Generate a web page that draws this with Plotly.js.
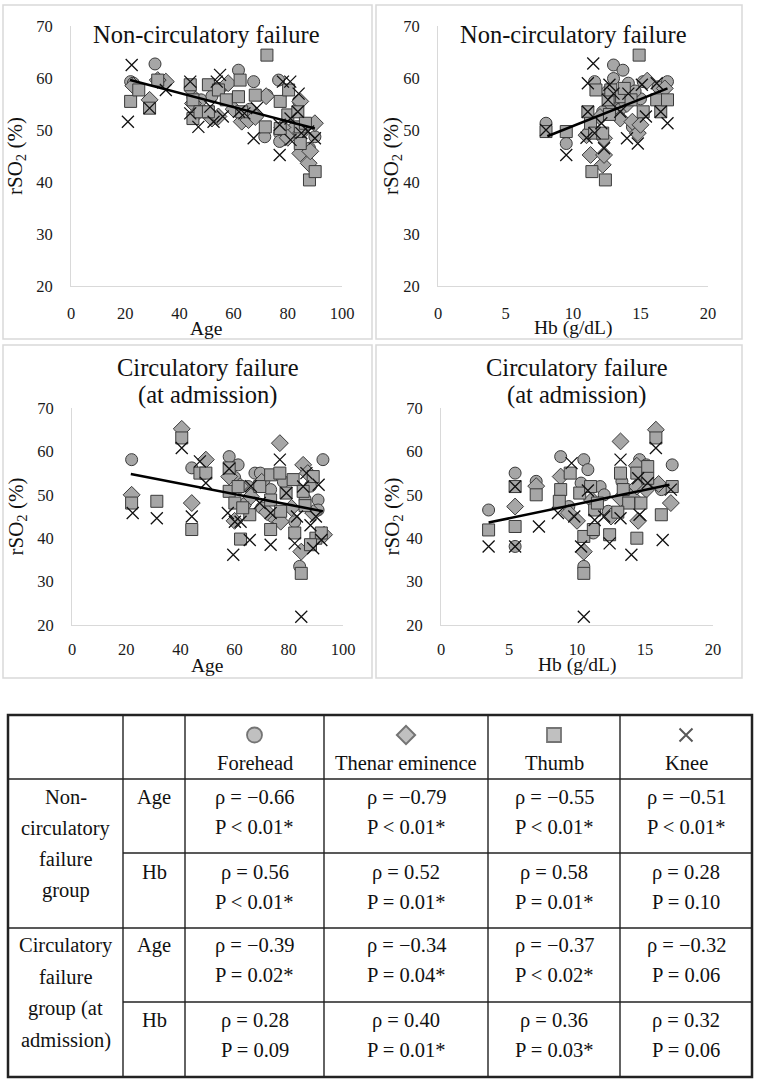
<!DOCTYPE html>
<html>
<head>
<meta charset="utf-8">
<script src="https://cdn.plot.ly/plotly-3.0.1.min.js"></script>
<style>
  body { margin: 0; background: #fff; }
  #chart { width: 757px; height: 1081px; }
</style>
</head>
<body>
<div id="chart"></div>
<script>
// ---- data: [x, rSO2] per point ----
// non-circulatory failure vs age
const ncAgeForehead = [[22,59.3],[24,58.2],[31,62.7],[45,56.4],[48,55.8],[57.5,58.7],[61.8,61.5],[67.4,59.3],[72.3,56.7],[71.5,48.7],[76.6,59.6],[77,49.4],[77,47.8],[82.1,50.3],[90,48.7],[84,55.5],[52,56.5],[44,58],[66,54],[88,46.5],[55,58],[23,59]];
const ncAgeThenar = [[29,55.8],[35,59.3],[32,59.6],[45,55.1],[52,52.2],[54.4,52.6],[63,51.6],[65.5,51.9],[84.6,55.5],[84.6,45.5],[87.7,43.6],[88.3,45.9],[90,51.3],[72,56.5],[78,50.5],[58,59],[68,52.5],[46,53],[23,58.5],[80,48.5],[60,54],[85,49.5]];
const ncAgeThumb = [[22,55.5],[25,57.7],[29,54.2],[32,59.6],[44,58.7],[45,55.8],[45,52.2],[47.6,53.5],[50.7,53.5],[50.7,58.7],[54.4,57.7],[57.3,55.8],[62.4,59.6],[61.8,56.4],[68,56.7],[71.7,50.6],[72.3,64.4],[77.2,55.5],[77.2,50.3],[80.3,57.7],[80,52.9],[83.7,53.5],[84.6,50.6],[84.6,47.4],[86.5,51.3],[88,40.4],[90.1,42],[63,53.5]];
const ncAgeKnee = [[22.4,62.5],[21,51.6],[29,54.2],[35,57.7],[44,59.3],[44,53.2],[47,50.6],[51.4,54.5],[52.6,51.6],[53.8,59.3],[55,60.6],[56,52.6],[62,53.5],[64,53.2],[67.4,48.4],[68.6,54.2],[78.2,59.3],[77,45.2],[80.9,59.3],[81,52.2],[81,48.1],[84,57],[83.7,53.5],[85,49.4],[87.5,49.7],[90,48.4],[77,51]];
const ncAgeTrend = [[21.8,59.6],[90,50.3]];

// non-circulatory failure vs Hb
const ncHbForehead = [[8,51.3],[9.5,47.4],[11.6,59.3],[11.1,49.4],[13,62.5],[13.7,61.5],[13,59.9],[14.1,59],[15.2,59.3],[14.4,50.6],[16.3,58.3],[17,59.3],[12.2,53.5],[12.8,55],[13.5,54],[11.3,52],[15,56],[14.6,57.5]];
const ncHbThenar = [[11.3,45.2],[12.2,43.3],[12.3,45.2],[12.3,48.4],[13.5,52.2],[14.8,49.4],[14.4,51.6],[16.8,58],[12,52.5],[11,49],[13.2,56.5],[15.5,59.5],[14,55],[12.6,57.5],[15,51]];
const ncHbThumb = [[8,49.7],[9.5,49.7],[11.7,57.7],[11.1,53.5],[11.3,51.3],[11.6,49.4],[11.4,42],[12.4,40.4],[12.2,49.4],[12.6,55.8],[12.8,57.7],[13.6,56.4],[14.3,55.8],[14.9,64.4],[15.2,53.5],[16.2,55.8],[16.5,53.5],[17,55.8],[13.8,58],[12.7,53]];
const ncHbKnee = [[8,50],[9.5,45.2],[11.5,62.8],[11.1,59],[11.1,53.5],[11.6,49.4],[12.3,46.5],[12.1,51.3],[12.6,55.8],[12.7,58.7],[13.5,53.5],[14.1,57],[14,48.4],[14.8,47.4],[15.1,58.7],[15.4,52.6],[16.2,59],[16.5,53.5],[17,51.3],[13,57],[11,48.5]];
const ncHbTrend = [[8.1,48.8],[17,58]];

// circulatory failure (at admission) vs age
const cfAgeForehead = [[22,58.1],[44.2,56.2],[58,58.8],[61.3,56.9],[65,51.9],[67.5,55],[69.5,55],[73.3,51.2],[82.2,43.8],[84,33.5],[90.8,48.8],[92.6,58.1],[90.8,46.5],[60,54],[78,53],[86,49],[64,48],[70,47],[88,52],[74,45]];
const cfAgeThenar = [[22,50],[40.5,65.2],[44.2,48.1],[49.4,58.1],[58,54.2],[66,49.6],[76.7,61.9],[77,43.8],[84.6,36.9],[85.3,56.9],[89,45.8],[93,40.8],[62,52],[70,53],[81,47],[60,44],[87,55],[72,46]];
const cfAgeThumb = [[22,48.1],[31.3,48.5],[40.5,63.1],[44.2,42],[47.2,55],[49.4,55],[58,56.2],[58,50.8],[60.1,48.1],[61.3,51.9],[62.2,39.8],[65.6,45.4],[69.3,51.9],[73.3,54.6],[73.3,48.8],[73.3,42],[76.7,55],[77,46.2],[79,50.4],[81.6,53.5],[82.2,41.2],[84.6,31.9],[85.3,50.8],[89,54.2],[90,40],[92,41.2],[63,47],[86,47.5],[88,38.5]];
const cfAgeKnee = [[22.4,45.8],[31.3,44.6],[40.5,60.8],[44.2,45],[47.2,57.7],[49.4,52.7],[58,56],[57.5,45.8],[59.5,36.2],[60.1,43.8],[62.2,43.8],[65.6,39.6],[69.3,48.1],[73.3,45.8],[73.3,38.5],[76.7,58.1],[79.1,50.4],[82.2,38.8],[84.6,21.9],[85.3,51.9],[86.5,55],[91,52.3],[89,37.7],[92,39.6],[83,45],[88,43],[66,52],[90,45]];
const cfAgeTrend = [[21.7,54.8],[92.6,46.2]];

// circulatory failure (at admission) vs Hb
const cfHbForehead = [[3.5,46.5],[5.45,55],[7,53.1],[8.8,58.8],[9.4,47.3],[10.5,58.1],[10.3,52.7],[10.5,33.5],[10.8,55.8],[11.7,51.9],[11.2,41.2],[12.3,46.2],[13.3,53.1],[14.6,58.1],[15.1,56.9],[16.2,51.2],[17,56.9],[5.45,38.1],[12,50]];
const cfHbThenar = [[5.45,47.3],[7,52],[8.8,54.2],[9.4,45.8],[10.5,36.9],[11.1,48.8],[13.2,62.3],[13.2,49.2],[14,49.6],[14.4,56.7],[14.4,51.9],[15.1,51.2],[15.8,65],[16.9,48.1],[10,44],[12.5,45],[14.5,44],[16,52.5]];
const cfHbThumb = [[3.5,41.9],[5.45,51.9],[5.45,42.7],[7,50],[8.8,51.2],[8.7,48.5],[9.5,55],[10.2,50.4],[10.5,40.4],[10.5,31.9],[11,51.9],[11.3,46.5],[11.5,48.1],[12.4,40.8],[13.2,55],[13.4,51.2],[13.8,48.1],[14.4,55],[14.4,40],[14.7,48.1],[15.2,56.5],[15.2,53.8],[15.8,63.1],[16.2,45.4],[17,51.9],[11.2,42],[13,46]];
const cfHbKnee = [[3.5,38.1],[5.45,51.9],[5.45,38.1],[7.2,42.7],[8.6,45.8],[9.6,57.3],[10.3,38.1],[10.5,21.9],[11.3,44.2],[12.4,38.8],[13.2,58.1],[13.2,44.6],[14,36.2],[14.5,53.8],[14.6,45.4],[15.2,52.7],[15.8,60.8],[16.3,39.6],[16.9,51.2],[10.8,51],[12,45],[9.8,45]];
const cfHbTrend = [[3.5,43.6],[16.8,52.3]];

// table
const sites = ['Forehead', 'Thenar eminence', 'Thumb', 'Knee'];
const groupLabels = [['Non-', 'circulatory', 'failure', 'group'], ['Circulatory', 'failure', 'group (at', 'admission)']];
const varLabels = ['Age', 'Hb', 'Age', 'Hb'];
const rhoValues = [
  [-0.66, -0.79, -0.55, -0.51],
  [0.56, 0.52, 0.58, 0.28],
  [-0.39, -0.34, -0.37, -0.32],
  [0.28, 0.40, 0.36, 0.32]
];
const pTexts = [
  ['P < 0.01*', 'P < 0.01*', 'P < 0.01*', 'P < 0.01*'],
  ['P < 0.01*', 'P = 0.01*', 'P = 0.01*', 'P = 0.10'],
  ['P = 0.02*', 'P = 0.04*', 'P < 0.02*', 'P = 0.06'],
  ['P = 0.09', 'P = 0.01*', 'P = 0.03*', 'P = 0.06']
];

// ---- styling ----
const W = 757, H = 1081;
const FONT = "'Liberation Serif', 'Times New Roman', serif";
const px = v => v / W;
const py = v => 1 - v / H;
const FILL = '#a6a6a6', EDGE = '#3a3a3a';
const siteMarkers = [
  {symbol: 'circle', size: 12, color: FILL, line: {color: EDGE, width: 1}},
  {symbol: 'diamond', size: 13, color: FILL, line: {color: EDGE, width: 1}},
  {symbol: 'square', size: 12, color: FILL, line: {color: EDGE, width: 1}},
  {symbol: 'x-thin-open', size: 12, color: '#111', line: {color: '#111', width: 1.3}}
];

const panels = [
  {series: [ncAgeForehead, ncAgeThenar, ncAgeThumb, ncAgeKnee], trend: ncAgeTrend, ax: '', xrange: [0, 100], dtick: 20,
   xdom: [71, 342], ydom: [26, 286], title: ['Non-circulatory failure'], titleY: [35], xtitle: 'Age', xtitleY: 328, ytitleX: 16, box: [3, 5, 372, 339], tstand: 12},
  {series: [ncHbForehead, ncHbThenar, ncHbThumb, ncHbKnee], trend: ncHbTrend, ax: '2', xrange: [0, 20], dtick: 5,
   xdom: [438, 708], ydom: [26, 286], title: ['Non-circulatory failure'], titleY: [35], xtitle: 'Hb (g/dL)', xtitleY: 328, ytitleX: 392, box: [376, 5, 742, 339], tstand: 12},
  {series: [cfAgeForehead, cfAgeThenar, cfAgeThumb, cfAgeKnee], trend: cfAgeTrend, ax: '3', xrange: [0, 100], dtick: 20,
   xdom: [72, 343], ydom: [408, 625], title: ['Circulatory failure', '(at admission)'], titleY: [367, 395], xtitle: 'Age', xtitleY: 665, ytitleX: 16, box: [3, 345, 372, 678], tstand: 9},
  {series: [cfHbForehead, cfHbThenar, cfHbThumb, cfHbKnee], trend: cfHbTrend, ax: '4', xrange: [0, 20], dtick: 5,
   xdom: [441, 713], ydom: [408, 625], title: ['Circulatory failure', '(at admission)'], titleY: [367, 395], xtitle: 'Hb (g/dL)', xtitleY: 665, ytitleX: 392, box: [376, 345, 742, 678], tstand: 9}
];

const data = [];
const layout = {
  width: W, height: H,
  margin: {t: 0, l: 0, r: 0, b: 0},
  paper_bgcolor: '#fff', plot_bgcolor: 'rgba(0,0,0,0)',
  showlegend: false,
  font: {family: FONT, color: '#111'},
  annotations: [],
  shapes: []
};

function text(t, x, y, size, extra) {
  layout.annotations.push(Object.assign({
    text: t, x: px(x), y: py(y), xref: 'paper', yref: 'paper',
    xanchor: 'center', yanchor: 'middle', showarrow: false,
    font: {family: FONT, size: size, color: '#111'}
  }, extra || {}));
}

function line(x0, y0, x1, y1, w, c) {
  layout.shapes.push({type: 'line', xref: 'paper', yref: 'paper',
    x0: px(x0), y0: py(y0), x1: px(x1), y1: py(y1), line: {color: c, width: w}});
}

panels.forEach(p => {
  const xa = 'x' + p.ax, ya = 'y' + p.ax;
  p.series.forEach((pts, i) => {
    data.push({
      type: 'scatter', mode: 'markers', xaxis: xa, yaxis: ya,
      x: pts.map(d => d[0]), y: pts.map(d => d[1]),
      marker: siteMarkers[i], hoverinfo: 'x+y'
    });
  });
  data.push({
    type: 'scatter', mode: 'lines', xaxis: xa, yaxis: ya,
    x: p.trend.map(d => d[0]), y: p.trend.map(d => d[1]),
    line: {color: '#000', width: 2.5}
  });
  const axBase = {showline: true, linecolor: '#d9d9d9', linewidth: 1, showgrid: false, zeroline: false,
    ticks: '', tickfont: {family: FONT, size: 16.5, color: '#1a1a1a'}, fixedrange: true};
  layout['xaxis' + p.ax] = Object.assign({}, axBase, {
    domain: [px(p.xdom[0]), px(p.xdom[1])], range: p.xrange, dtick: p.dtick, tick0: 0,
    anchor: ya, ticklabelstandoff: p.tstand
  });
  layout['yaxis' + p.ax] = Object.assign({}, axBase, {
    domain: [py(p.ydom[1]), py(p.ydom[0])], range: [20, 70], dtick: 10,
    anchor: xa, ticklabelstandoff: 14
  });
  const cx = (p.xdom[0] + p.xdom[1]) / 2;
  p.title.forEach((t, k) => text(t, cx, p.titleY[k], 24.5));
  text(p.xtitle, cx, p.xtitleY, 19.5);
  text('rSO<sub>2</sub> (%)', p.ytitleX, (p.ydom[0] + p.ydom[1]) / 2, 21, {textangle: -90});
  layout.shapes.push({type: 'rect', xref: 'paper', yref: 'paper',
    x0: px(p.box[0]), y0: py(p.box[3]), x1: px(p.box[2]), y1: py(p.box[1]),
    line: {color: '#d9d9d9', width: 1.5}});
});

// ---- table ----
const colX = [8, 123, 185, 324, 488, 620, 752];
const rowY = [715, 779, 853, 928, 1002, 1077];
const INK = '#222';
for (let c = 1; c < colX.length - 1; c++) line(colX[c], rowY[0], colX[c], rowY[5], 1.4, INK);
line(colX[0], rowY[1], colX[6], rowY[1], 1.6, INK);
line(colX[1], rowY[2], colX[6], rowY[2], 1.4, INK);
line(colX[0], rowY[3], colX[6], rowY[3], 1.6, INK);
line(colX[1], rowY[4], colX[6], rowY[4], 1.4, INK);
layout.shapes.push({type: 'rect', xref: 'paper', yref: 'paper',
  x0: px(colX[0]), y0: py(rowY[5]), x1: px(colX[6]), y1: py(rowY[0]),
  line: {color: INK, width: 2.5}});

const colC = c => (colX[c] + colX[c + 1]) / 2;
const TS = 20.5;
sites.forEach((s, i) => text(s, colC(i + 2), 763, TS));
// header symbols on a hidden pixel-scaled axis
data.push({
  type: 'scatter', mode: 'markers', xaxis: 'x5', yaxis: 'y5',
  x: sites.map((s, i) => colC(i + 2)), y: sites.map(() => 735),
  marker: {
    symbol: siteMarkers.map(m => m.symbol),
    size: [15, 14, 14, 13],
    color: siteMarkers.map(m => m.color),
    line: {color: siteMarkers.map(m => m.line.color), width: [1.8, 2, 1.8, 2]}
  },
  hoverinfo: 'skip', cliponaxis: false
});
layout.xaxis5 = {domain: [0, 1], range: [0, W], visible: false, fixedrange: true, anchor: 'y5'};
layout.yaxis5 = {domain: [0, 1], range: [H, 0], visible: false, fixedrange: true, anchor: 'x5'};

const groupLineY = [[797, 828, 859, 890], [945, 977, 1008, 1040]];
groupLabels.forEach((g, gi) => g.forEach((t, k) => text(t, colC(0), groupLineY[gi][k], TS)));

const cellTop = [797, 872, 945, 1020];
const fmtRho = v => 'ρ = ' + (v < 0 ? '\u2212' + Math.abs(v).toFixed(2) : v.toFixed(2));
varLabels.forEach((v, r) => {
  text(v, colC(1), cellTop[r], TS);
  rhoValues[r].forEach((rho, c) => {
    text(fmtRho(rho), colC(c + 2), cellTop[r], TS);
    text(pTexts[r][c], colC(c + 2), cellTop[r] + 30, TS);
  });
});

Plotly.newPlot('chart', data, layout, {staticPlot: true, displayModeBar: false});
</script>
</body>
</html>
